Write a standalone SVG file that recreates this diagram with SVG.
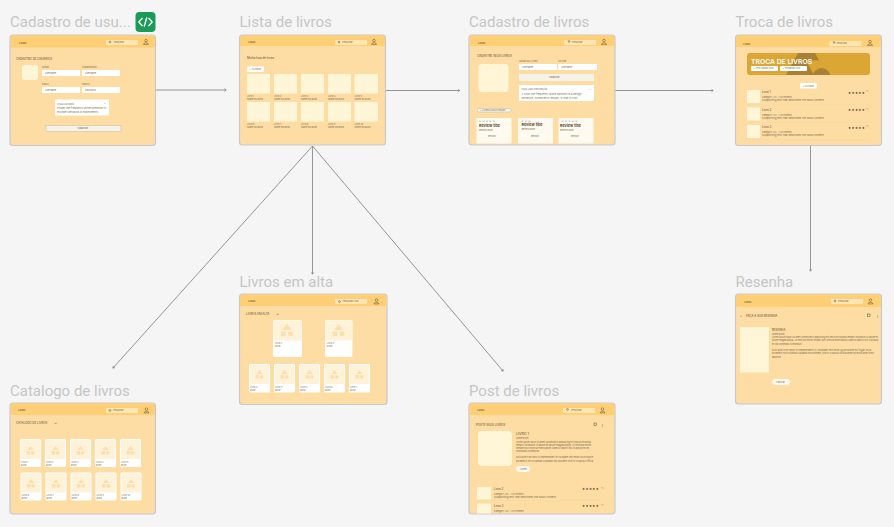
<svg xmlns="http://www.w3.org/2000/svg" width="894" height="527" viewBox="0 0 894 527">
<style>
text{font-family:"Inter","Liberation Sans",sans-serif;fill:#5a4a2c}
.name{font-family:"Roboto","Liberation Sans",sans-serif;font-size:15px;fill:#c6c6c6}
.frame{fill:#fddda4;stroke:#c9c8d0;stroke-width:1.2}
.hd{fill:#ffcf76}
.logo{font-size:2.600px;font-weight:500}
.search{fill:#fde6b4}
.s{font-size:2.300px;fill:#7d6c4c}
.t{font-size:3.800px;font-weight:600;fill:#3d3020}
.l{font-size:2.900px}
.w{fill:#fff}
.img{fill:#fff6d8}
.card{fill:#fffaf0}
.pic{fill:#fef2d9}
.sh{fill:#fcdfae}
.btn{fill:#f5f2ea;stroke:#b8b09c;stroke-width:.4}
.rule{stroke:#f7d99c;stroke-width:.6}
.star{font-size:3.400px;fill:#4a3a20;letter-spacing:.4px;font-family:"DejaVu Sans",sans-serif}
.ic{fill:none;stroke:#5a4a2c;stroke-width:.5}
.cn{fill:none;stroke:#8a8a8a;stroke-width:.9;marker-end:url(#a)}
</style>
<defs>
<marker id="a" markerWidth="4" markerHeight="4" refX="2.500" refY="2" orient="auto" markerUnits="userSpaceOnUse"><path d="M.8 .6L2.800 2L.8 3.400" fill="none" stroke="#777" stroke-width=".6"/></marker>
<g id="user"><circle cx="0" cy="-1.400" r="1.300" fill="none" stroke="#5a4a2c" stroke-width=".5"/><path d="M-2.500 2.400C-2.300 .4 2.300 .4 2.500 2.400Z" fill="none" stroke="#5a4a2c" stroke-width=".5"/></g>
<g id="mark"><path class="sh" d="M0 -4L3 0H-3Z"/><rect class="sh" x="-4" y="1" width="3.600" height="3.600"/><circle class="sh" cx="2.200" cy="2.800" r="1.900"/></g>
<g id="bigmark"><path class="sh" d="M0 -6L4.600 0H-4.600Z"/><rect class="sh" x="-6" y="1.400" width="4.800" height="4.800"/><circle class="sh" cx="3.600" cy="3.800" r="2.500"/></g>
<clipPath id="c3"><rect x="469" y="35" width="146" height="108.500" rx="3"/></clipPath>
<clipPath id="c4"><rect x="747" y="53" width="123" height="22" rx="3"/></clipPath>
<clipPath id="c8"><rect x="469" y="403" width="146" height="110.500" rx="3"/></clipPath>
</defs>
<rect width="894" height="527" fill="#f5f5f5"/>

<g id="connectors">
<path class="cn" d="M155.500 90H226"/>
<path class="cn" d="M385.500 90.500H459.500"/>
<path class="cn" d="M615 90.500H713"/>
<path class="cn" d="M810.500 145.500V271"/>
<path class="cn" d="M312.500 146L113 368"/>
<path class="cn" d="M312.500 146V274"/>
<path class="cn" d="M312.500 146L503 371"/>
</g>

<g id="cadastro-usuarios">
<text class="name" x="10" y="27">Cadastro de usu...</text>
<rect x="135.500" y="12" width="20" height="20" rx="4" fill="#1c9a5a"/>
<path d="M142.500 18L138.800 22L142.500 26M148.500 18L152.200 22L148.500 26M146.800 17.500L144.200 26.500" fill="none" stroke="#fff" stroke-width="1.300"/>
<rect class="frame" x="10" y="35" width="145.500" height="110.500" rx="3"/>
<path class="hd" d="M10.600 47.500V38a2.500 2.500 0 0 1 2.500-2.500H152.500a2.500 2.500 0 0 1 2.500 2.500V47.500Z"/>
<text class="logo" x="19" y="43.500">LOGO</text>
<rect class="search" x="106" y="40" width="32" height="5"/>
<text class="s" x="113.500" y="43.300">Pesquisar</text><circle class="ic" cx="110" cy="42" r=".9"/>
<use href="#user" x="146" y="42"/>
<text class="l" x="16" y="59.500">CADASTRO DE USUÁRIOS</text>
<rect class="img" x="22" y="65" width="16" height="15" rx="3"/>
<text class="s" x="42" y="68">NOME</text><text class="s" x="82" y="68">SOBRENOME</text>
<rect class="w" x="42" y="70" width="38" height="6"/><rect class="w" x="82" y="70" width="38" height="6"/>
<text class="s" x="45" y="73.800">Username</text><text class="s" x="85" y="73.800">Username</text>
<text class="s" x="42" y="85">EMAIL</text><text class="s" x="82" y="85">SENHA</text>
<rect class="w" x="42" y="87" width="38" height="6"/><rect class="w" x="82" y="87" width="38" height="6"/>
<text class="s" x="45" y="90.800">Username</text><text class="s" x="85" y="90.800">Password</text>
<rect class="w" x="55" y="99.500" width="54" height="16"/>
<text class="s" x="57" y="104.500">VISUALIZANDO</text><text class="s" x="104" y="104">×</text>
<text class="s" x="57" y="109" textLength="49" lengthAdjust="spacingAndGlyphs">Proper line frequently arises premium in</text>
<text class="s" x="57" y="113" textLength="41" lengthAdjust="spacingAndGlyphs">multiple scenarios or experiments</text>
<rect class="btn" x="46" y="125.500" width="75" height="6"/>
<text class="s" x="77.500" y="129.300">Cadastrar</text>
</g>

<g id="lista-livros">
<text class="name" x="239.500" y="27">Lista de livros</text>
<rect class="frame" x="239.500" y="35" width="146" height="110" rx="3"/>
<path class="hd" d="M240 46V38a2.500 2.500 0 0 1 2.500-2.500H382.500a2.500 2.500 0 0 1 2.500 2.500V46Z"/>
<text class="logo" x="248" y="43">LOGO</text>
<rect class="search" x="335" y="40" width="32" height="5"/>
<text class="s" x="342" y="43.300">Pesquisar</text><circle class="ic" cx="339" cy="42" r=".9"/>
<use href="#user" x="374" y="42"/>
<text class="l" x="247" y="59">Minha lista de livros</text>
<rect class="w" x="247" y="66.500" width="17" height="5.500" rx="1"/>
<text class="s" x="249" y="70.200">✓ FILTRAR</text>
<rect class="img" x="247" y="74" width="23" height="19.500"/><rect class="img" x="274" y="74" width="23" height="19.500"/><rect class="img" x="301" y="74" width="23" height="19.500"/><rect class="img" x="328" y="74" width="23" height="19.500"/><rect class="img" x="354.500" y="74" width="23.500" height="19.500"/>
<text class="s" x="247" y="96.500">Livro 1</text><text class="s" x="274" y="96.500">Livro 2</text><text class="s" x="301" y="96.500">Livro 3</text><text class="s" x="328" y="96.500">Livro 4</text><text class="s" x="354.500" y="96.500">Livro 5</text>
<text class="s" x="247" y="99.500">Nome do autor</text><text class="s" x="274" y="99.500">Nome do autor</text><text class="s" x="301" y="99.500">Nome do autor</text><text class="s" x="328" y="99.500">Nome do autor</text><text class="s" x="354.500" y="99.500">Nome do autor</text>
<rect class="img" x="247" y="102" width="23" height="19.500"/><rect class="img" x="274" y="102" width="23" height="19.500"/><rect class="img" x="301" y="102" width="23" height="19.500"/><rect class="img" x="328" y="102" width="23" height="19.500"/><rect class="img" x="354.500" y="102" width="23.500" height="19.500"/>
<text class="s" x="247" y="124.500">Livro 6</text><text class="s" x="274" y="124.500">Livro 7</text><text class="s" x="301" y="124.500">Livro 8</text><text class="s" x="328" y="124.500">Livro 9</text><text class="s" x="354.500" y="124.500">Livro 10</text>
<text class="s" x="247" y="127.500">Nome do autor</text><text class="s" x="274" y="127.500">Nome do autor</text><text class="s" x="301" y="127.500">Nome do autor</text><text class="s" x="328" y="127.500">Nome do autor</text><text class="s" x="354.500" y="127.500">Nome do autor</text>
</g>

<g id="cadastro-livros">
<text class="name" x="469" y="27">Cadastro de livros</text>
<rect class="frame" x="469" y="35" width="146" height="110" rx="3"/>
<path class="hd" d="M469.500 46V38a2.500 2.500 0 0 1 2.500-2.500H612a2.500 2.500 0 0 1 2.500 2.500V46Z"/>
<text class="logo" x="478" y="43.500">LOGO</text>
<rect class="search" x="564" y="40" width="32" height="5"/>
<text class="s" x="572" y="43.300">Pesquisar</text><circle class="ic" cx="569" cy="41.500" r=".9"/>
<use href="#user" x="604" y="42"/>
<text class="l" x="477" y="57">CADASTRE SEUS LIVROS</text>
<rect class="img" x="478.500" y="64" width="30" height="28" rx="4"/>
<text class="s" x="519" y="62">NOME DO LIVRO</text><text class="s" x="558" y="62">AUTOR</text>
<rect class="w" x="519" y="64" width="38" height="6"/><rect class="w" x="558" y="64" width="39" height="6"/>
<text class="s" x="522" y="67.800">Username</text><text class="s" x="561" y="67.800">Username</text>
<rect x="519" y="74" width="75" height="7" rx="1" fill="#f5f2ea"/>
<text class="s" x="549" y="78.300">Cadastrar</text>
<rect class="w" x="519" y="85" width="75" height="16"/>
<text class="s" x="521.500" y="90">FAÇA UMA DESCRIÇÃO</text><text class="s" x="589" y="90">×</text>
<text class="s" x="521.500" y="95" textLength="60" lengthAdjust="spacingAndGlyphs">A visor line frequently quote opinions in a design</text>
<text class="s" x="521.500" y="98.500" textLength="56" lengthAdjust="spacingAndGlyphs">sentence, consectetur tempor, in erat in tristi</text>
<rect class="btn" x="477.500" y="108.500" width="33.500" height="3.500" rx="1"/>
<text class="s" x="480" y="111.100">+ LIVRO CADASTRADO</text>
<g clip-path="url(#c3)">
<rect class="card" x="476.500" y="118" width="35" height="28"/><rect class="card" x="518" y="118" width="35" height="28"/><rect class="card" x="558.500" y="118" width="35" height="28"/>
</g>
<text class="star" x="478.500" y="122">☆☆☆☆☆</text><text class="star" x="521" y="122">☆☆☆</text><text class="star" x="561" y="122">☆☆☆☆☆</text>
<text class="t" x="479" y="127">Review title</text><text class="t" x="521.500" y="126">Review title</text><text class="t" x="560" y="127">Review title</text>
<text class="s" x="479" y="131">Review body</text><text class="s" x="521.500" y="130">Review body</text><text class="s" x="560" y="131">Review body</text>
<text class="s" x="488" y="137">Revisor</text><text class="s" x="531" y="137">Revisor</text><text class="s" x="571" y="137">Revisor</text>
</g>

<g id="troca-livros">
<text class="name" x="735.500" y="27">Troca de livros</text>
<rect class="frame" x="735.500" y="35" width="146" height="110.500" rx="3"/>
<path class="hd" d="M736 47V38a2.500 2.500 0 0 1 2.500-2.500H878.500a2.500 2.500 0 0 1 2.500 2.500V47Z"/>
<text class="logo" x="743" y="44.500">LOGO</text>
<rect class="search" x="829.500" y="41" width="32" height="5"/>
<text class="s" x="836.500" y="44.300">Pesquisar</text><circle class="ic" cx="834" cy="42.500" r=".9"/>
<use href="#user" x="870" y="43"/>
<rect x="747" y="53" width="123" height="22" rx="3" fill="#dba634"/>
<g clip-path="url(#c4)" fill="#a98133"><path d="M798 53H815L819 60.500H806L814 75H786Z"/><circle cx="821.500" cy="77" r="9"/></g>
<text x="751" y="63.500" font-size="6.800" font-weight="600" style="fill:#fff">TROCA DE LIVROS</text>
<rect class="w" x="751" y="66" width="27" height="5" rx="1"/><rect class="w" x="780" y="66" width="27" height="5" rx="1"/>
<text class="s" x="753" y="69.300">⊞ Procurando livro</text><text class="s" x="782" y="69.300">⊞ Trocando livro</text>
<rect class="w" x="800" y="83" width="17" height="5.500" rx="1"/>
<text class="s" x="802.500" y="86.600">+ FILTRAR</text>
<rect class="img" x="747" y="90" width="13" height="13"/><rect class="img" x="747" y="107.500" width="13" height="13"/><rect class="img" x="747" y="125" width="13" height="13"/>
<text class="l" x="762" y="93">Livro 1</text><text class="l" x="762" y="110.500">Livro 2</text><text class="l" x="762" y="128">Livro 3</text>
<text class="s" x="762" y="98">Category: XX · 1.2k reviews</text><text class="s" x="762" y="115.500">Category: XX · 1.2k reviews</text><text class="s" x="762" y="133">Category: XX · 1.2k reviews</text>
<text class="s" x="762" y="101" textLength="62" lengthAdjust="spacingAndGlyphs">Supporting text that describes the book content</text><text class="s" x="762" y="118.500" textLength="62" lengthAdjust="spacingAndGlyphs">Supporting text that describes the book content</text><text class="s" x="762" y="136" textLength="62" lengthAdjust="spacingAndGlyphs">Supporting text that describes the book content</text>
<text class="star" x="848" y="93.500">★★★★★</text><text class="star" x="848" y="111">★★★★★</text><text class="star" x="848" y="128.500">★★★★★</text>
<text class="star" x="866" y="93">♡</text><text class="star" x="866" y="110.500">♡</text><text class="star" x="866" y="128">♡</text>
<path class="rule" d="M747 105H870M747 122.500H870M747 139.500H870"/>
</g>

<g id="livros-em-alta">
<text class="name" x="239.500" y="287">Livros em alta</text>
<rect class="frame" x="239.500" y="294" width="147.500" height="110.500" rx="3"/>
<path class="hd" d="M240 306V297a2.500 2.500 0 0 1 2.500-2.500H384a2.500 2.500 0 0 1 2.500 2.500V306Z"/>
<text class="logo" x="248" y="302">LOGO</text>
<rect class="search" x="335" y="299" width="32" height="5"/>
<text class="s" x="342.500" y="302.300">Pesquisar livro</text><circle class="ic" cx="339.500" cy="301.500" r=".9"/>
<use href="#user" x="376.500" y="301.500"/>
<text class="l" x="246" y="315">LIVROS EM ALTA</text><text class="l" x="276" y="315">→</text>
<rect class="w" x="273" y="320" width="29" height="37" rx="1.500"/><rect class="w" x="325" y="320" width="27.500" height="37" rx="1.500"/>
<rect class="pic" x="273.500" y="320.500" width="28" height="20"/><rect class="pic" x="325.500" y="320.500" width="26.500" height="20"/>
<use href="#bigmark" x="287" y="330"/><use href="#bigmark" x="338.500" y="330"/>
<text class="s" x="275" y="344">Livro 1</text><text class="s" x="275" y="347">autor</text><text class="s" x="327" y="344">Livro 2</text><text class="s" x="327" y="347">autor</text>
<rect class="w" x="249" y="364" width="21" height="28.500" rx="1.500"/><rect class="w" x="274" y="364" width="21" height="28.500" rx="1.500"/><rect class="w" x="299" y="364" width="21" height="28.500" rx="1.500"/><rect class="w" x="324" y="364" width="21" height="28.500" rx="1.500"/><rect class="w" x="349" y="364" width="21" height="28.500" rx="1.500"/>
<rect class="pic" x="250" y="365" width="19" height="19"/><rect class="pic" x="275" y="365" width="19" height="19"/><rect class="pic" x="300" y="365" width="19" height="19"/><rect class="pic" x="325" y="365" width="19" height="19"/><rect class="pic" x="350" y="365" width="19" height="19"/>
<use href="#mark" x="259.500" y="374"/><use href="#mark" x="284.500" y="374"/><use href="#mark" x="309.500" y="374"/><use href="#mark" x="334.500" y="374"/><use href="#mark" x="359.500" y="374"/>
<text class="s" x="250" y="388">Livro 3</text><text class="s" x="275" y="388">Livro 4</text><text class="s" x="300" y="388">Livro 5</text><text class="s" x="325" y="388">Livro 6</text><text class="s" x="350" y="388">Livro 7</text>
<text class="s" x="250" y="391">autor</text><text class="s" x="275" y="391">autor</text><text class="s" x="300" y="391">autor</text><text class="s" x="325" y="391">autor</text><text class="s" x="350" y="391">autor</text>
</g>

<g id="resenha">
<text class="name" x="735.500" y="287">Resenha</text>
<rect class="frame" x="735.500" y="294" width="146" height="110" rx="3"/>
<path class="hd" d="M736 307V297a2.500 2.500 0 0 1 2.500-2.500H878.500a2.500 2.500 0 0 1 2.500 2.500V307Z"/>
<text class="logo" x="744" y="303">LOGO</text>
<rect class="search" x="831" y="299" width="32" height="5"/>
<text class="s" x="838" y="302.300">Pesquisar</text><circle class="ic" cx="835" cy="301" r=".9"/>
<use href="#user" x="870.500" y="301.500"/>
<text class="l" x="740" y="316.500">+</text><text class="l" x="746" y="316.500">FAÇA A SUA RESENHA</text>
<rect class="ic" x="867.500" y="314" width="2.500" height="2.500"/><text class="l" x="876" y="316.500">⋮</text>
<rect class="img" x="740" y="327" width="29" height="45.500"/>
<text class="l" x="772" y="331">RESENHA</text>
<text class="s" x="772" y="334.500">Nome autor</text>
<text class="s" x="772" y="338" textLength="106" lengthAdjust="spacingAndGlyphs">Lorem ipsum dolor sit amet consectetur adipiscing elit sed do eiusmod tempor incididunt ut labore et</text>
<text class="s" x="772" y="341" textLength="106" lengthAdjust="spacingAndGlyphs">dolore magna aliqua. Ut enim ad minim veniam quis nostrud exercitation ullamco laboris nisi ut aliquip</text>
<text class="s" x="772" y="344.500">ex ea commodo consequat.</text>
<text class="s" x="772" y="351" textLength="99" lengthAdjust="spacingAndGlyphs">Duis aute irure dolor in reprehenderit in voluptate velit esse cillum dolore eu fugiat nulla</text>
<text class="s" x="772" y="354" textLength="102" lengthAdjust="spacingAndGlyphs">Excepteur sint occaecat cupidatat non proident, sunt in culpa qui officia deserunt mollit anim id est</text>
<text class="s" x="772" y="357.500">laborum</text>
<rect x="772" y="379" width="18" height="6" rx="3" fill="#fff8ee"/>
<text class="s" x="776" y="382.800">Publicar</text>
</g>

<g id="catalogo-livros">
<text class="name" x="10" y="396">Catalogo de livros</text>
<rect class="frame" x="10" y="403" width="145.500" height="111" rx="3"/>
<path class="hd" d="M10.600 415V406a2.500 2.500 0 0 1 2.500-2.500H152.500a2.500 2.500 0 0 1 2.500 2.500V415Z"/>
<text class="logo" x="18" y="411">LOGO</text>
<rect class="search" x="106" y="408" width="32" height="5"/>
<text class="s" x="113" y="411.300">Pesquisar</text><circle class="ic" cx="110" cy="410.500" r=".9"/>
<use href="#user" x="146.500" y="410.500"/>
<text class="l" x="16" y="424">CATALOGO DE LIVROS</text><text class="l" x="54" y="424">→</text>
<rect class="w" x="20" y="439" width="21" height="28" rx="1.500"/><rect class="w" x="45" y="439" width="21" height="28" rx="1.500"/><rect class="w" x="70" y="439" width="21" height="28" rx="1.500"/><rect class="w" x="95" y="439" width="21" height="28" rx="1.500"/><rect class="w" x="120" y="439" width="21" height="28" rx="1.500"/>
<rect class="pic" x="21" y="440" width="19" height="19"/><rect class="pic" x="46" y="440" width="19" height="19"/><rect class="pic" x="71" y="440" width="19" height="19"/><rect class="pic" x="96" y="440" width="19" height="19"/><rect class="pic" x="121" y="440" width="19" height="19"/>
<use href="#mark" x="30.500" y="450"/><use href="#mark" x="55.500" y="450"/><use href="#mark" x="80.500" y="450"/><use href="#mark" x="105.500" y="450"/><use href="#mark" x="130.500" y="450"/>
<text class="s" x="21" y="463">Livro 1</text><text class="s" x="46" y="463">Livro 2</text><text class="s" x="71" y="463">Livro 3</text><text class="s" x="96" y="463">Livro 4</text><text class="s" x="121" y="463">Livro 5</text>
<text class="s" x="21" y="466">autor</text><text class="s" x="46" y="466">autor</text><text class="s" x="71" y="466">autor</text><text class="s" x="96" y="466">autor</text><text class="s" x="121" y="466">autor</text>
<rect class="w" x="20.500" y="472.500" width="21" height="28" rx="1.500"/><rect class="w" x="45.500" y="472.500" width="21" height="28" rx="1.500"/><rect class="w" x="70.500" y="472.500" width="21" height="28" rx="1.500"/><rect class="w" x="95.500" y="472.500" width="21" height="28" rx="1.500"/><rect class="w" x="120.500" y="472.500" width="21" height="28" rx="1.500"/>
<rect class="pic" x="21.500" y="473.500" width="19" height="19"/><rect class="pic" x="46.500" y="473.500" width="19" height="19"/><rect class="pic" x="71.500" y="473.500" width="19" height="19"/><rect class="pic" x="96.500" y="473.500" width="19" height="19"/><rect class="pic" x="121.500" y="473.500" width="19" height="19"/>
<use href="#mark" x="31" y="483"/><use href="#mark" x="56" y="483"/><use href="#mark" x="81" y="483"/><use href="#mark" x="106" y="483"/><use href="#mark" x="131" y="483"/>
<text class="s" x="21.500" y="496">Livro 6</text><text class="s" x="46.500" y="496">Livro 7</text><text class="s" x="71.500" y="496">Livro 8</text><text class="s" x="96.500" y="496">Livro 9</text><text class="s" x="121.500" y="496">Livro 10</text>
<text class="s" x="21.500" y="499">autor</text><text class="s" x="46.500" y="499">autor</text><text class="s" x="71.500" y="499">autor</text><text class="s" x="96.500" y="499">autor</text><text class="s" x="121.500" y="499">autor</text>
</g>

<g id="post-livros">
<text class="name" x="469" y="396">Post de livros</text>
<rect class="frame" x="469" y="403" width="146" height="111" rx="3"/>
<path class="hd" d="M469.500 415V406a2.500 2.500 0 0 1 2.500-2.500H612a2.500 2.500 0 0 1 2.500 2.500V415Z"/>
<text class="logo" x="477" y="411">LOGO</text>
<rect class="search" x="563" y="408" width="32" height="5"/>
<text class="s" x="571" y="411.300">Pesquisar</text><circle class="ic" cx="567.500" cy="409.500" r=".9"/>
<use href="#user" x="602.500" y="410.500"/>
<text class="l" x="476" y="425.500">POSTE SEUS LIVROS</text>
<rect class="ic" x="594" y="423" width="2.500" height="2.500"/><text class="l" x="601" y="425.500">⋮</text>
<rect class="img" x="478" y="431" width="34" height="35" rx="4"/>
<text x="516" y="435" font-size="3.600">LIVRO 1</text>
<text class="s" x="516" y="439">Nome autor</text>
<text class="s" x="516" y="442.500" textLength="75" lengthAdjust="spacingAndGlyphs">Lorem ipsum dolor sit amet consectetur adipiscing elit sed do eiusmod</text>
<text class="s" x="516" y="445.500" textLength="75" lengthAdjust="spacingAndGlyphs">tempor incididunt ut labore et dolore magna aliqua. Ut enim ad minim</text>
<text class="s" x="516" y="449" textLength="73" lengthAdjust="spacingAndGlyphs">veniam quis nostrud exercitation ullamco laboris nisi ut aliquip ex ea</text>
<text class="s" x="516" y="452">commodo consequat.</text>
<text class="s" x="516" y="458" textLength="77" lengthAdjust="spacingAndGlyphs">Duis aute irure dolor in reprehenderit in voluptate velit esse cillum dolore</text>
<text class="s" x="516" y="461.500" textLength="77" lengthAdjust="spacingAndGlyphs">Excepteur sint occaecat cupidatat non proident sunt in culpa qui officia</text>
<rect x="516" y="466" width="14" height="6" rx="3" fill="#fff8ee"/>
<text class="s" x="520" y="469.800">Lorem</text>
<rect class="img" x="477" y="487" width="14" height="12.500"/>
<text class="l" x="494" y="490">Livro 2</text>
<text class="s" x="494" y="494.500">Category: XX · 1.2k reviews</text>
<text class="s" x="494" y="498" textLength="62" lengthAdjust="spacingAndGlyphs">Supporting text that describes the book content</text>
<text class="star" x="582" y="490">★★★★★</text><text class="star" x="601" y="490">♡</text>
<path class="rule" d="M477 500.500H604"/>
<g clip-path="url(#c8)"><rect class="img" x="477" y="503.500" width="14" height="12.500"/></g>
<text class="l" x="494" y="507">Livro 3</text>
<text class="s" x="494" y="512">Category: XX · 1.2k reviews</text>
<text class="star" x="582" y="507">★★★★★</text><text class="star" x="601" y="507">♡</text>
</g>
</svg>
